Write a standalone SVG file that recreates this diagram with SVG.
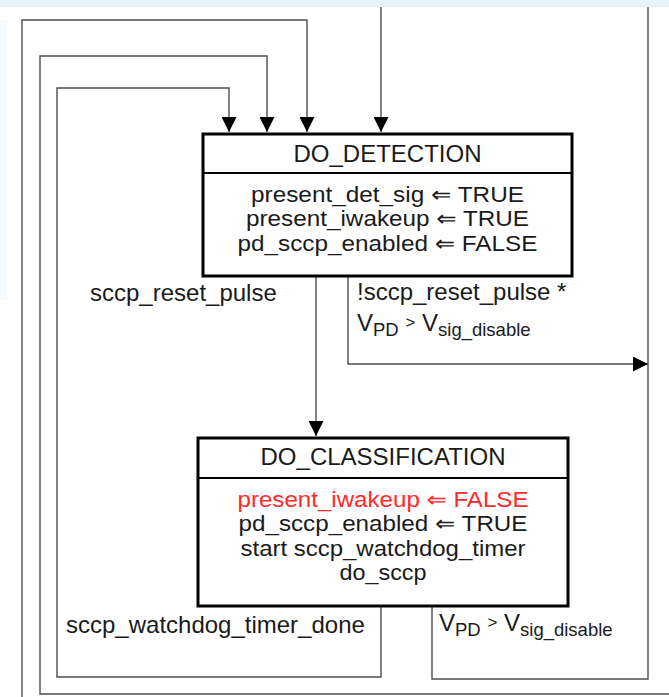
<svg xmlns="http://www.w3.org/2000/svg" width="669" height="697" viewBox="0 0 669 697">
  <style>
    .bg { fill: #ffffff; }
    .tint { fill: #e6f3fa; }
    .box { fill: #ffffff; stroke: #000000; stroke-width: 3; }
    .div { stroke: #000000; stroke-width: 2; }
    .wire { fill: none; stroke: #4d4d4d; stroke-width: 1.4; }
    text { font-family: "Liberation Sans", Arial, "DejaVu Sans", sans-serif; font-size: 24px; fill: #1a1a1a; }
    .c { text-anchor: middle; }
    .body { font-size: 21.6px; }
    .red { fill: #ff2a2a; }
    .sub { font-size: 18.5px; }
    .gt { font-size: 17px; }
  </style>
  <defs>
    <marker id="arrow" viewBox="0 0 16 16" refX="16" refY="8" markerWidth="16" markerHeight="15" markerUnits="userSpaceOnUse" orient="auto">
      <path d="M0,0 L16,8 L0,16 z" fill="#000000"/>
    </marker>
  </defs>

  <rect class="bg" x="0" y="0" width="669" height="697"/>
  <rect class="tint" x="0" y="0" width="669" height="7"/>
  <rect class="tint" x="0" y="20" width="7" height="280" opacity="0.45"/>

  <!-- transitions -->
  <g id="connectors">
    <path class="wire" d="M22,697 V20 H307 V132" marker-end="url(#arrow)"/>
    <path class="wire" d="M669,694 H40 V56 H267 V132" marker-end="url(#arrow)"/>
    <path class="wire" d="M381,607 V677 H57 V88 H229 V132" marker-end="url(#arrow)"/>
    <path class="wire" d="M381,7 V132" marker-end="url(#arrow)"/>
    <path class="wire" d="M316,277 V436" marker-end="url(#arrow)"/>
    <path class="wire" d="M348,277 V364 H648" marker-end="url(#arrow)"/>
    <path class="wire" d="M432,607 V679 H648 V7"/>
  </g>

  <!-- transition labels -->
  <g id="labels">
    <text x="90" y="301">sccp_reset_pulse</text>
    <text x="357" y="300">!sccp_reset_pulse *</text>
    <text x="357" y="331">V<tspan class="sub" dy="5">PD</tspan><tspan dy="-5"> </tspan><tspan class="gt" dy="-3">&gt;</tspan><tspan dy="3"> V</tspan><tspan class="sub" dy="5">sig_disable</tspan></text>
    <text x="66" y="633">sccp_watchdog_timer_done</text>
    <text x="439" y="631">V<tspan class="sub" dy="5">PD</tspan><tspan dy="-5"> </tspan><tspan class="gt" dy="-3">&gt;</tspan><tspan dy="3"> V</tspan><tspan class="sub" dy="5">sig_disable</tspan></text>
  </g>

  <g id="do_detection">
    <rect class="box" x="203" y="134" width="369" height="142"/>
    <line class="div" x1="203" y1="173" x2="572" y2="173"/>
    <text class="c" x="387.5" y="162">DO_DETECTION</text>
    <text class="c body" x="387.5" y="202" textLength="273" lengthAdjust="spacingAndGlyphs">present_det_sig ⇐ TRUE</text>
    <text class="c body" x="387.5" y="226.3" textLength="283" lengthAdjust="spacingAndGlyphs">present_iwakeup ⇐ TRUE</text>
    <text class="c body" x="387.5" y="250.6" textLength="300" lengthAdjust="spacingAndGlyphs">pd_sccp_enabled ⇐ FALSE</text>
  </g>

  <g id="do_classification">
    <rect class="box" x="198" y="438" width="370" height="168"/>
    <line class="div" x1="198" y1="478" x2="568" y2="478"/>
    <text class="c" x="383" y="465">DO_CLASSIFICATION</text>
    <text class="c body red" x="383" y="507" textLength="291" lengthAdjust="spacingAndGlyphs">present_iwakeup ⇐ FALSE</text>
    <text class="c body" x="383" y="531.3" textLength="289" lengthAdjust="spacingAndGlyphs">pd_sccp_enabled ⇐ TRUE</text>
    <text class="c body" x="383" y="555.6" textLength="285" lengthAdjust="spacingAndGlyphs">start sccp_watchdog_timer</text>
    <text class="c body" x="383" y="579.9" textLength="87" lengthAdjust="spacingAndGlyphs">do_sccp</text>
  </g>
</svg>
